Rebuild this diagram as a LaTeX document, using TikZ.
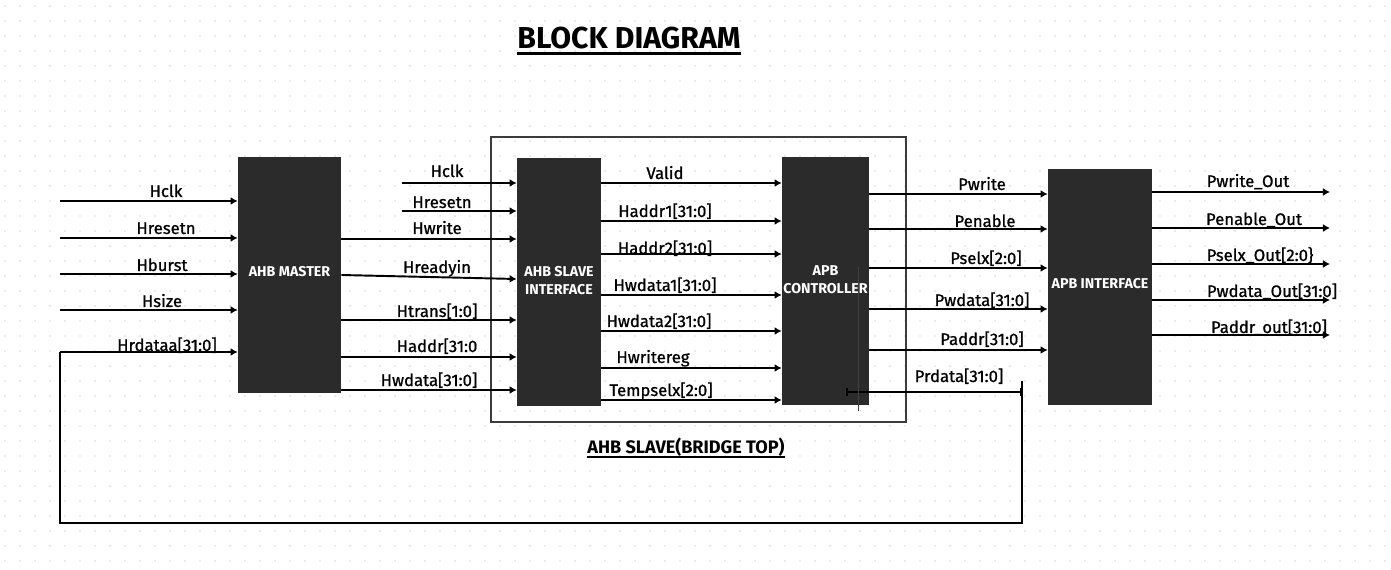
\documentclass[tikz,border=0pt]{standalone}
\usepackage{fontspec}
\setmainfont{Fira Sans}
\newfontfamily\lblfont{Fira Sans}[FakeBold=0.9]
\usetikzlibrary{arrows.meta}
\definecolor{blockgray}{HTML}{2B2B2B}
\definecolor{dotgray}{HTML}{D6D6D6}
\definecolor{framegray}{HTML}{3C3C3C}
\tikzset{
  block/.style={fill=blockgray,draw=none,inner sep=0pt,text=white,align=center,font=\fontsize{8.1}{10}\selectfont\bfseries},
  sig/.style={->,line width=1.1pt},
  fb/.style={line width=0.9pt},
  lbl/.style={anchor=base,inner sep=0pt,font=\fontsize{9.5}{11}\selectfont\lblfont}
}

\begin{document}
\begin{tikzpicture}[x=0.02cm,y=-0.02cm,>={Latex[length=4pt,width=4.5pt]}]
  \fill[white] (0,0) rectangle (1391,570);
  \useasboundingbox (0,0) rectangle (1391,570);
  \foreach \i in {0,...,92} {
    \foreach \j in {0,...,37} {
      \fill[dotgray] (5+15*\i,6+15*\j) circle (0.55pt);
    }
  }

  % titles
  \node[anchor=base,inner sep=0pt,font=\fontsize{17.2}{20}\selectfont\bfseries] (title) at (629,49) {BLOCK DIAGRAM};
  \draw[line width=1.6pt] ([yshift=-2.4pt]title.base west) -- ([yshift=-2.4pt]title.base east);
  \node[anchor=base,inner sep=0pt,font=\fontsize{10.3}{12}\selectfont\bfseries] (bridgelbl) at (686,453) {AHB SLAVE(BRIDGE TOP)};
  \draw[line width=1pt] ([yshift=-2.2pt]bridgelbl.base west) -- ([yshift=-2.2pt]bridgelbl.base east);

  % bridge frame
  \draw[framegray,line width=0.9pt] (491,137) rectangle (906,422);

  % blocks
  \node[block,minimum width=2.06cm,minimum height=4.72cm] (master) at (289.5,275) {\raisebox{4pt}{AHB MASTER}};
  \node[block,minimum width=1.68cm,minimum height=4.96cm] (slave) at (559,282) {\raisebox{4pt}{\begin{tabular}{@{}c@{}}AHB SLAVE\\INTERFACE\end{tabular}}};
  \node[block,minimum width=1.74cm,minimum height=4.96cm] (ctrl) at (825.5,281) {\raisebox{4pt}{\begin{tabular}{@{}c@{}}APB\\CONTROLLER\end{tabular}}};
  \node[block,minimum width=2.08cm,minimum height=4.72cm] (apbif) at (1100,287) {\raisebox{4pt}{APB INTERFACE}};

  % inputs of AHB master
  \coordinate (clkin) at (60,201);
  \coordinate (rstin) at (60,238);
  \coordinate (burstin) at (60,274);
  \coordinate (sizein) at (60,310);
  \coordinate (rdin) at (60,352);
  \draw[sig] (clkin) -- (clkin -| master.west);
  \draw[sig] (rstin) -- (rstin -| master.west);
  \draw[sig] (burstin) -- (burstin -| master.west);
  \draw[sig] (sizein) -- (sizein -| master.west);
  \draw[sig] (rdin) -- (rdin -| master.west);
  \node[lbl] (lclk) at (166,197) {Hclk};
  \node[lbl] (lrst) at (166,234) {Hresetn};
  \node[lbl] (lburst) at (162,271) {Hburst};
  \node[lbl] (lsize) at (162,307) {Hsize};
  \node[lbl] (lrd) at (167,351) {Hrdataa[31:0]};

  % AHB master to slave interface
  \coordinate (hclk2) at (402,183);
  \coordinate (hrst2) at (402,211);
  \draw[sig] (hclk2) -- (hclk2 -| slave.west);
  \draw[sig] (hrst2) -- (hrst2 -| slave.west);
  \draw[sig] (master.east |- 0,239) -- (slave.west |- 0,239);
  \draw[sig] (master.east |- 0,275) -- (slave.west |- 0,279);
  \draw[sig] (master.east |- 0,320) -- (slave.west |- 0,320);
  \draw[sig] (master.east |- 0,357) -- (slave.west |- 0,357);
  \draw[sig] (master.east |- 0,390) -- (slave.west |- 0,390);
  \node[lbl] (lhclk) at (447,177) {Hclk};
  \node[lbl] (lhrst) at (442,208) {Hresetn};
  \node[lbl] (lhwr) at (437,234) {Hwrite};
  \node[lbl] (lhrdy) at (437,273) {Hreadyin};
  \node[lbl] (lhtr) at (437,317) {Htrans[1:0]};
  \node[lbl] (lhad) at (437,352) {Haddr[31:0};
  \node[lbl] (lhwd) at (429,386) {Hwdata[31:0]};

  % slave interface to APB controller
  \draw[sig] (slave.east |- 0,183) -- (ctrl.west |- 0,183);
  \draw[sig] (slave.east |- 0,221) -- (ctrl.west |- 0,221);
  \draw[sig] (slave.east |- 0,254) -- (ctrl.west |- 0,254);
  \draw[sig] (slave.east |- 0,295) -- (ctrl.west |- 0,295);
  \draw[sig] (slave.east |- 0,331) -- (ctrl.west |- 0,331);
  \draw[sig] (slave.east |- 0,368) -- (ctrl.west |- 0,368);
  \draw[sig] (slave.east |- 0,400) -- (ctrl.west |- 0,400);
  \node[lbl] (lvalid) at (665,179) {Valid};
  \node[lbl] (lad1) at (665,217) {Haddr1[31:0]};
  \node[lbl] (lad2) at (665,254) {Haddr2[31:0]};
  \node[lbl] (lwd1) at (665,291) {Hwdata1[31:0]};
  \node[lbl] (lwd2) at (659,327) {Hwdata2[31:0]};
  \node[lbl] (lwreg) at (653,363) {Hwritereg};
  \node[lbl] (ltsel) at (661,396) {Tempselx[2:0]};

  % APB controller to APB interface
  \draw[sig] (ctrl.east |- 0,194) -- (apbif.west |- 0,194);
  \draw[sig] (ctrl.east |- 0,229) -- (apbif.west |- 0,229);
  \draw[sig] (ctrl.east |- 0,268) -- (apbif.west |- 0,268);
  \draw[sig] (ctrl.east |- 0,309) -- (apbif.west |- 0,309);
  \draw[sig] (ctrl.east |- 0,350) -- (apbif.west |- 0,350);
  \node[lbl] (lpwr) at (982,190) {Pwrite};
  \node[lbl] (lpen) at (985,227) {Penable};
  \node[lbl] (lpsel) at (986,264) {Pselx[2:0]};
  \node[lbl] (lpwd) at (982,306) {Pwdata[31:0]};
  \node[lbl] (lpad) at (982,345) {Paddr[31:0]};

  % read data back to the master
  \coordinate (prdL) at (846,392);
  \coordinate (prdR) at (1022,392);
  \coordinate (prdtop) at (1022,381);
  \draw[fb,{Bar[width=4pt]}-{Bar[width=4pt]}] (prdL) -- (prdR);
  \draw[fb] (rdin) |- (prdtop |- 0,523) -- (prdtop);
  \node[lbl] (lprd) at (959,382) {Prdata[31:0]};
  \draw[black!75,line width=0.5pt] (858,267) -- (858,411);

  % outputs of APB interface
  \coordinate (pwout) at (1330,192);
  \coordinate (penout) at (1330,228);
  \coordinate (pselout) at (1330,264);
  \coordinate (pwdout) at (1330,300);
  \coordinate (padout) at (1330,335);
  \draw[sig] (apbif.east |- pwout) -- (pwout);
  \draw[sig] (apbif.east |- penout) -- (penout);
  \draw[sig] (apbif.east |- pselout) -- (pselout);
  \draw[sig] (apbif.east |- pwdout) -- (pwdout);
  \draw[sig] (apbif.east |- padout) -- (padout);
  \node[lbl] (lpwo) at (1248,187) {Pwrite\_Out};
  \node[lbl] (lpeo) at (1254,225) {Penable\_Out};
  \node[lbl] (lpso) at (1260,261) {Pselx\_Out[2:0\}};
  \node[lbl] (lpdo) at (1272,297) {Pwdata\_Out[31:0]};
  \node[lbl] (lpao) at (1269,333) {Paddr\_out[31:0]};
\end{tikzpicture}
\end{document}
